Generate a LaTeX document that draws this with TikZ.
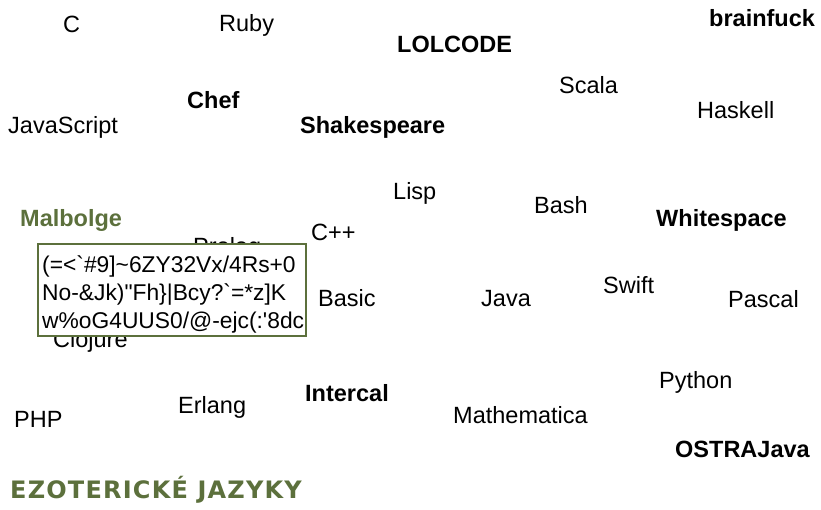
\documentclass[tikz,border=0pt]{standalone}
\usepackage{fontspec}
\setmainfont{Liberation Sans}
\newfontfamily\titlefont[LetterSpace=5]{DejaVu Sans}
\definecolor{moss}{RGB}{92,112,60}
\tikzset{
    lang/.style={anchor=base west, inner sep=0pt, font=\fontsize{23.5}{28}\selectfont},
    esolang/.style={lang, font=\fontsize{23.5}{28}\selectfont\bfseries},
    codeline/.style={anchor=base west, inner sep=0pt, font=\fontsize{22.8}{28}\selectfont},
    codebox/.style={draw=moss, fill=white, line width=2pt, minimum width=268pt, minimum height=92pt, inner sep=0pt}
}
\begin{document}
\begin{tikzpicture}[x=1pt, y=-1pt]
    \useasboundingbox (0,0) rectangle (821,509);

    % top rows
    \node[lang] (c) at (63,32) {C};
    \node[lang] (ruby) at (219,31) {Ruby};
    \node[esolang] (lolcode) at (397,52) {LOLCODE};
    \node[esolang] (brainfuck) at (709,26) {brainfuck};
    \node[lang] (scala) at (559,93) {Scala};
    \node[esolang] (chef) at (187,108) {Chef};
    \node[lang] (javascript) at (8,133) {JavaScript};
    \node[esolang] (shakespeare) at (300,133) {Shakespeare};
    \node[lang] (haskell) at (697,118) {Haskell};

    % middle rows
    \node[lang] (lisp) at (393,199) {Lisp};
    \node[lang] (bash) at (534,213) {Bash};
    \node[esolang, text=moss] (malbolge) at (20,226) {Malbolge};
    \node[esolang] (whitespace) at (656,226) {Whitespace};
    \node[lang] (cpp) at (311,240) {C++};
    \node[lang] (prolog) at (193,254) {Prolog};
    \node[lang] (clojure) at (53,347) {Clojure};
    \node[lang] (basic) at (318,306) {Basic};
    \node[lang] (java) at (481,306) {Java};
    \node[lang] (swift) at (603,293) {Swift};
    \node[lang] (pascal) at (728,307) {Pascal};

    % malbolge sample over prolog and clojure
    \node[codebox] (sample) at (172,290) {};
    \node[codeline] (code1) at (42,272) {(=<\textasciigrave\#9]\char`\~6ZY32Vx/4Rs+0};
    \node[codeline] (code2) at (42,300) {No-\&Jk)\textquotedbl Fh\}|Bcy?\textasciigrave=*z]K};
    \node[codeline] (code3) at (42,328) {w\%oG4UUS0/@-ejc(:\textquotesingle 8dc};

    % bottom rows
    \node[lang] (python) at (659,388) {Python};
    \node[lang] (mathematica) at (453,423) {Mathematica};
    \node[esolang] (ostrajava) at (675,457) {OSTRAJava};
    \node[lang] (php) at (14,427) {PHP};
    \node[lang] (erlang) at (178,413) {Erlang};
    \node[esolang] (intercal) at (305,401) {Intercal};

    \node[anchor=base west, inner sep=0pt, text=moss, font=\fontsize{24}{28}\titlefont\bfseries] (title) at (10,498) {EZOTERICKÉ JAZYKY};
\end{tikzpicture}
\end{document}
